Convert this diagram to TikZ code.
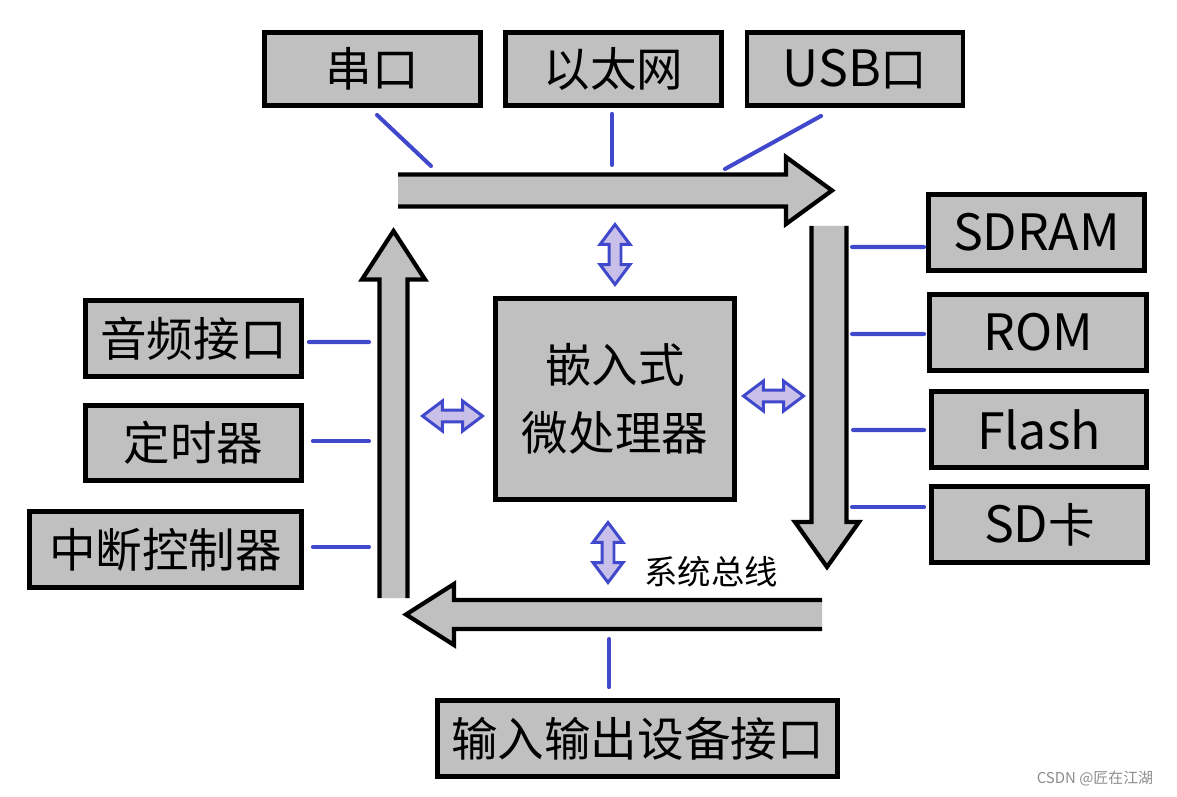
\documentclass[tikz,border=0pt]{standalone}
\usepackage{fontspec}
\setmainfont{Noto Sans CJK SC}
\usetikzlibrary{positioning}
\usetikzlibrary{calc}
\usetikzlibrary{shapes.arrows}
\definecolor{boxgray}{RGB}{192,192,192}
\definecolor{linkblue}{RGB}{64,72,204}
\definecolor{arrowfill}{RGB}{200,192,232}
\newcommand{\lat}[1]{{\fontsize{28.5}{30}\selectfont #1}}
\tikzset{
  box/.style={draw,line width=2.8pt,fill=boxgray,inner sep=0pt,
              font=\fontsize{26.5}{30}\selectfont},
  link/.style={draw=linkblue,line width=2.3pt,line cap=round},
  busline/.style={line width=2.4pt,line join=miter},
  dblarrow/.style={double arrow,draw=linkblue,fill=arrowfill,line width=1.7pt,
                   inner sep=0.09cm,double arrow head extend=0.18cm,
                   double arrow tip angle=74,minimum height=1.2cm},
}

\begin{document}
\begin{tikzpicture}[x=0.02cm,y=-0.02cm]
    \useasboundingbox (0,0) rectangle (1177,797);
    % peripheral boxes, top row
    \node at (372.5,69) [box,minimum width=4.32cm,minimum height=1.46cm] (ncom) {串口};
    \node at (613.5,69) [box,minimum width=4.32cm,minimum height=1.46cm] (neth) {以太网};
    \node at (855,69)   [box,minimum width=4.32cm,minimum height=1.46cm] (nusb) {\lat{USB}口};
    % left column
    \node at (193.5,338.5) [box,minimum width=4.32cm,minimum height=1.52cm] (naudio) {音频接口};
    \node at (193.5,443)   [box,minimum width=4.32cm,minimum height=1.50cm] (ntimer) {定时器};
    \node at (165.5,549.5) [box,minimum width=5.44cm,minimum height=1.52cm] (nintc)  {中断控制器};
    % right column
    \node at (1036.5,232.5) [box,minimum width=4.32cm,minimum height=1.52cm] (nsdram) {\lat{SDRAM}};
    \node at (1038,332.5)   [box,minimum width=4.34cm,minimum height=1.52cm] (nrom)   {\lat{ROM}};
    \node at (1039,429.5)   [box,minimum width=4.30cm,minimum height=1.52cm] (nflash) {\lat{Flash}};
    \node at (1039.5,524.5) [box,minimum width=4.32cm,minimum height=1.52cm] (nsd)    {\lat{SD}卡};
    % bottom box
    \node at (637.5,738.5) [box,minimum width=8.0cm,minimum height=1.52cm] (nio) {输入输出设备接口};
    % processor
    \node at (615,399) [box,minimum width=4.78cm,minimum height=4.02cm,
                        align=center,font=\fontsize{26.5}{38.5}\selectfont] (ncpu) {嵌入式\\微处理器};
    % top bus
    \fill[boxgray] (398,174.5) -- (786,174.5) -- (786,157) -- (832,190.5) -- (786,224) -- (786,206.5) -- (398,206.5) -- cycle;
    \draw[busline] (398,174.5) -- (786,174.5) -- (786,157) -- (832,190.5) -- (786,224) -- (786,206.5) -- (398,206.5);
    % right bus
    \fill[boxgray] (811.5,226) -- (811.5,522) -- (795,522) -- (827,567) -- (859,522) -- (846.5,522) -- (846.5,226) -- cycle;
    \draw[busline] (811.5,226) -- (811.5,522) -- (795,522) -- (827,567) -- (859,522) -- (846.5,522) -- (846.5,226);
    % bottom bus
    \fill[boxgray] (822,600) -- (454,600) -- (454,584) -- (406,614.5) -- (454,645) -- (454,629) -- (822,629) -- cycle;
    \draw[busline] (822,600) -- (454,600) -- (454,584) -- (406,614.5) -- (454,645) -- (454,629) -- (822,629);
    % left bus
    \fill[boxgray] (379.5,598) -- (379.5,279.5) -- (362,279.5) -- (393.5,231) -- (425,279.5) -- (407.5,279.5) -- (407.5,598) -- cycle;
    \draw[busline] (379.5,598) -- (379.5,279.5) -- (362,279.5) -- (393.5,231) -- (425,279.5) -- (407.5,279.5) -- (407.5,598);
    \node at (711,572) [font=\fontsize{19}{22}\selectfont] (nbus) {系统总线};
    % where the links meet the buses
    \coordinate (pcom)   at (431,166);
    \coordinate (peth)   at (612,165);
    \coordinate (pusb)   at (725,169);
    \coordinate (paudio) at (369,342);
    \coordinate (ptimer) at (369,441);
    \coordinate (pintc)  at (369,547);
    \coordinate (psdram) at (852,247);
    \coordinate (prom)   at (852,334);
    \coordinate (pflash) at (853,430);
    \coordinate (psd)    at (852,507);
    \coordinate (pio)    at (609,639);
    % links
    \draw[link] ($(ncom.south)+(4.5,7)$)   -- (pcom);
    \draw[link] ($(neth.south)+(-1.5,6)$)  -- (peth);
    \draw[link] ($(nusb.south)+(-34,8)$)   -- (pusb);
    \draw[link] ($(naudio.east)+(5,3.5)$)  -- (paudio);
    \draw[link] ($(ntimer.east)+(9,-2)$)   -- (ptimer);
    \draw[link] ($(nintc.east)+(9,-2.5)$)  -- (pintc);
    \draw[link] ($(nsdram.west)+(-2,14.5)$) -- (psdram);
    \draw[link] ($(nrom.west)+(-3,1.5)$)   -- (prom);
    \draw[link] ($(nflash.west)+(-5,0.5)$) -- (pflash);
    \draw[link] ($(nsd.west)+(-5,-17.5)$)  -- (psd);
    \draw[link] ($(nio.north)+(-28.5,-11)$) -- (pio);
    % processor to bus
    \node at (615,254.5)   [dblarrow,rotate=90] (natop) {};
    \node at (452.5,416)   [dblarrow] (naleft) {};
    \node at (773.5,396)   [dblarrow] (naright) {};
    \node at (608,552.5)   [dblarrow,rotate=90] (nabot) {};
    \node at (1095,779) [text=black!45,font=\fontsize{8.5}{10}\selectfont] (nmark) {CSDN @匠在江湖};
\end{tikzpicture}
\end{document}
